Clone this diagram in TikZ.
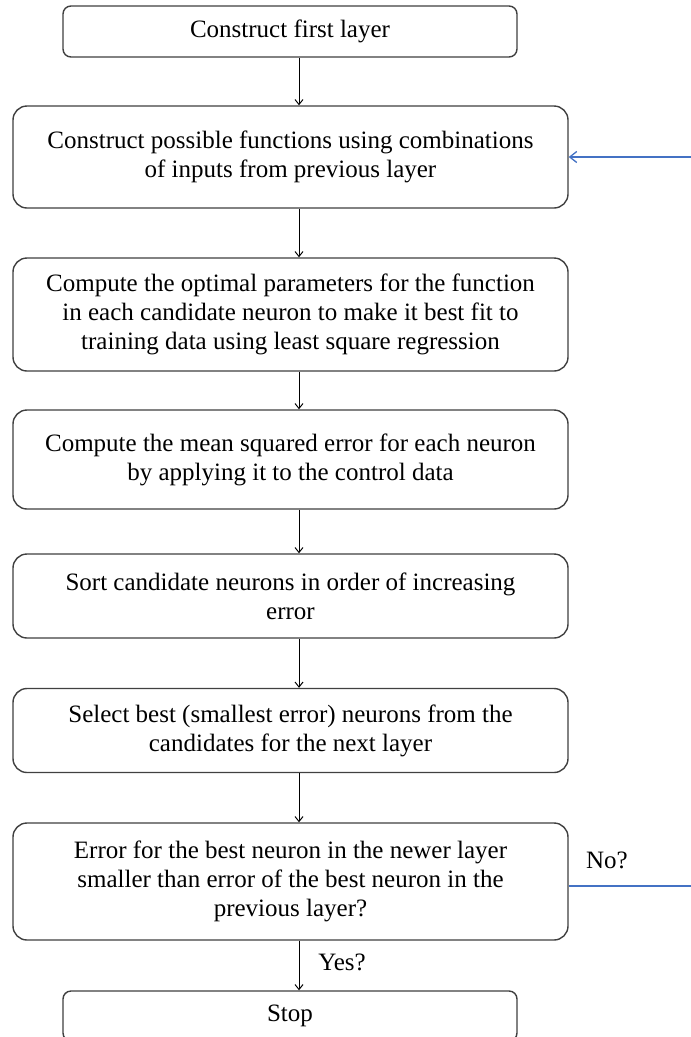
\documentclass[tikz,border=0pt]{standalone}
\usepackage{fontspec}
\setmainfont{Liberation Serif}
\usetikzlibrary{arrows.meta}
\definecolor{linkblue}{HTML}{4472C4}
\tikzset{
  txt/.style={font=\fontsize{25}{29}\selectfont, inner sep=0pt, align=center},
  stepbox/.style={txt, draw=black!75, line width=1.4pt, rounded corners=14pt,
    minimum width=555pt},
  endbox/.style={txt, draw=black!75, line width=1.4pt, rounded corners=8pt,
    minimum width=454pt},
  flow/.style={draw=black, line width=1pt, -{Straight Barb[length=5pt,width=8pt]}},
  loopback/.style={draw=linkblue, line width=1.3pt, -{Straight Barb[length=7pt,width=11pt]}},
}
\begin{document}
\begin{tikzpicture}[x=1pt,y=-1pt]
\clip (0,0) rectangle (691,1037);
\fill[white] (0,0) rectangle (691,1037);

% process steps
\node[endbox, minimum height=51pt] (b1) at (290,31.5) {Construct first layer};
\node[stepbox, minimum height=102pt] (b2) at (290.5,157)
  {Construct possible functions using combinations\\of inputs from previous layer};
\node[stepbox, minimum height=113pt] (b3) at (290.5,314.5)
  {Compute the optimal parameters for the function\\in each candidate neuron to make it best fit to\\training data using least square regression};
\node[stepbox, minimum height=99pt] (b4) at (290.5,459.5)
  {Compute the mean squared error for each neuron\\by applying it to the control data};
\node[stepbox, minimum height=84pt] (b5) at (290.5,596)
  {Sort candidate neurons in order of increasing\\error};
\node[stepbox, minimum height=84pt] (b6) at (290.5,730.5)
  {Select best (smallest error) neurons from the\\candidates for the next layer};
\node[stepbox, minimum height=117pt] (b7) at (290.5,881.5)
  {Error for the best neuron in the newer layer\\smaller than error of the best neuron in the\\previous layer?};
\node[endbox, minimum height=50pt] (b8) at (290,1016) {Stop};

% vertical flow line
\coordinate (ax) at (299,0);
\draw[flow] (b1.south -| ax) -- (b2.north -| ax);
\draw[flow] (b2.south -| ax) -- (b3.north -| ax);
\draw[flow] (b3.south -| ax) -- (b4.north -| ax);
\draw[flow] (b4.south -| ax) -- (b5.north -| ax);
\draw[flow] (b5.south -| ax) -- (b6.north -| ax);
\draw[flow] (b6.south -| ax) -- (b7.north -| ax);
\draw[flow] (b7.south -| ax) -- (b8.north -| ax);
\node[txt] (yes) at (342,962) {Yes?};

% loop back to the next layer
\coordinate (loopin) at (691,157);
\coordinate (loopout) at (691,886);
\draw[loopback] (loopin) -- (b2.east);
\draw[draw=linkblue, line width=1.3pt] (b7.east |- loopout) -- (loopout);
\node[txt] (no) at (607,860) {No?};
\end{tikzpicture}
\end{document}
